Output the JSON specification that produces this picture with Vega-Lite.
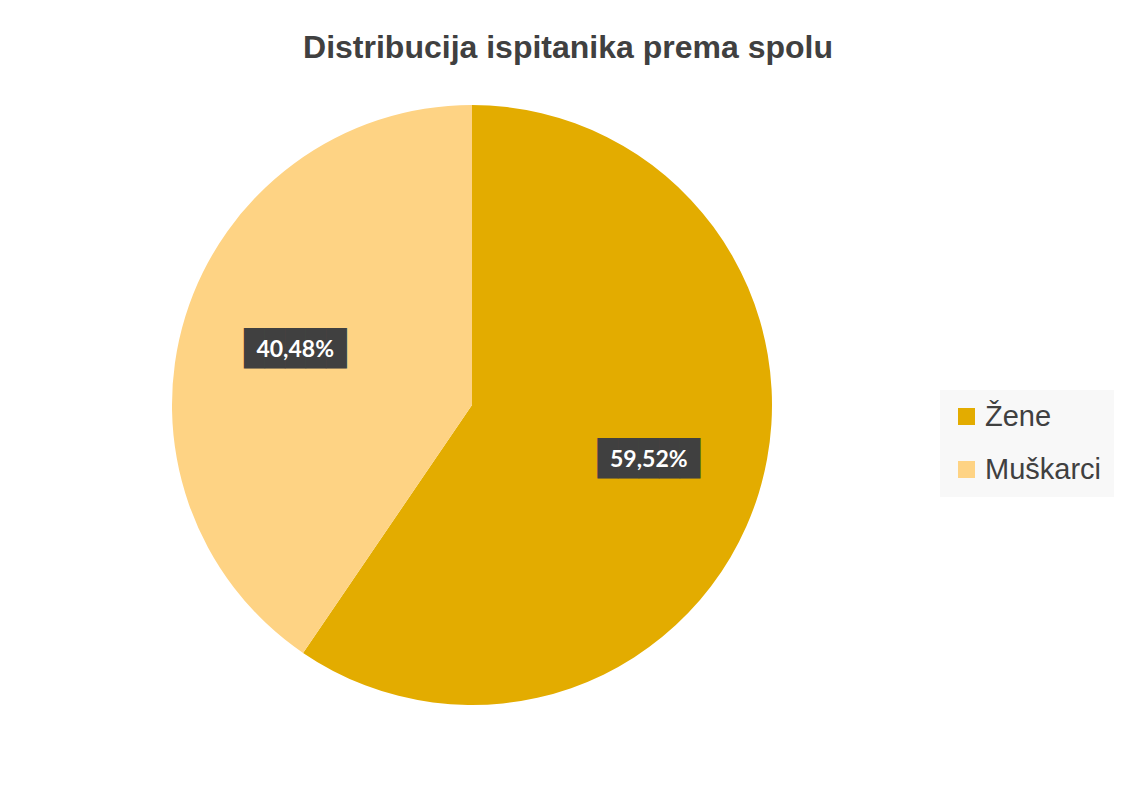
{
  "$schema": "https://vega.github.io/schema/vega-lite/v6.json",
  "autosize": {"type": "none"},
  "width": 600,
  "height": 600,
  "padding": {"left": 172, "top": 105, "right": 357, "bottom": 104},
  "background": "white",
  "title": {
    "text": "Distribucija ispitanika prema spolu",
    "font": "Liberation Sans",
    "fontSize": 32,
    "fontWeight": "bold",
    "color": "#404040",
    "anchor": "middle",
    "dx": 96,
    "offset": 40
  },
  "config": {"view": {"stroke": null}},
  "data": {
    "values": [
      {"spol": "Žene", "postotak": 59.52, "oznaka": "59,52%", "red": 1},
      {"spol": "Muškarci", "postotak": 40.48, "oznaka": "40,48%", "red": 2}
    ]
  },
  "encoding": {
    "theta": {"field": "postotak", "type": "quantitative", "stack": true},
    "order": {"field": "red", "type": "ordinal"}
  },
  "layer": [
    {
      "mark": {"type": "arc", "outerRadius": 300},
      "encoding": {
        "color": {
          "field": "spol",
          "type": "nominal",
          "scale": {"domain": ["Žene", "Muškarci"], "range": ["#E3AC00", "#FED384"]},
          "legend": {
            "orient": "none",
            "legendX": 768,
            "legendY": 285,
            "title": null,
            "symbolType": "square",
            "symbolSize": 290,
            "symbolStrokeWidth": 0,
            "labelFontSize": 29,
            "labelFont": "Liberation Sans",
            "labelColor": "#404040",
            "labelOffset": 4,
            "labelLimit": 300,
            "fillColor": "#F8F8F8",
            "padding": 12,
            "rowPadding": 23
          }
        }
      }
    },
    {
      "mark": {"type": "text", "radius": 185, "font": "DejaVu Sans Mono", "fontSize": 34, "text": "█████", "color": "#404040", "baseline": "middle"},
      "encoding": {"detail": {"field": "spol", "type": "nominal"}}
    },
    {
      "mark": {"type": "text", "radius": 185, "font": "Lato", "fontSize": 23, "fontWeight": "bold", "color": "white", "baseline": "middle"},
      "encoding": {
        "detail": {"field": "spol", "type": "nominal"},
        "text": {"field": "oznaka", "type": "nominal"}
      }
    }
  ]
}
